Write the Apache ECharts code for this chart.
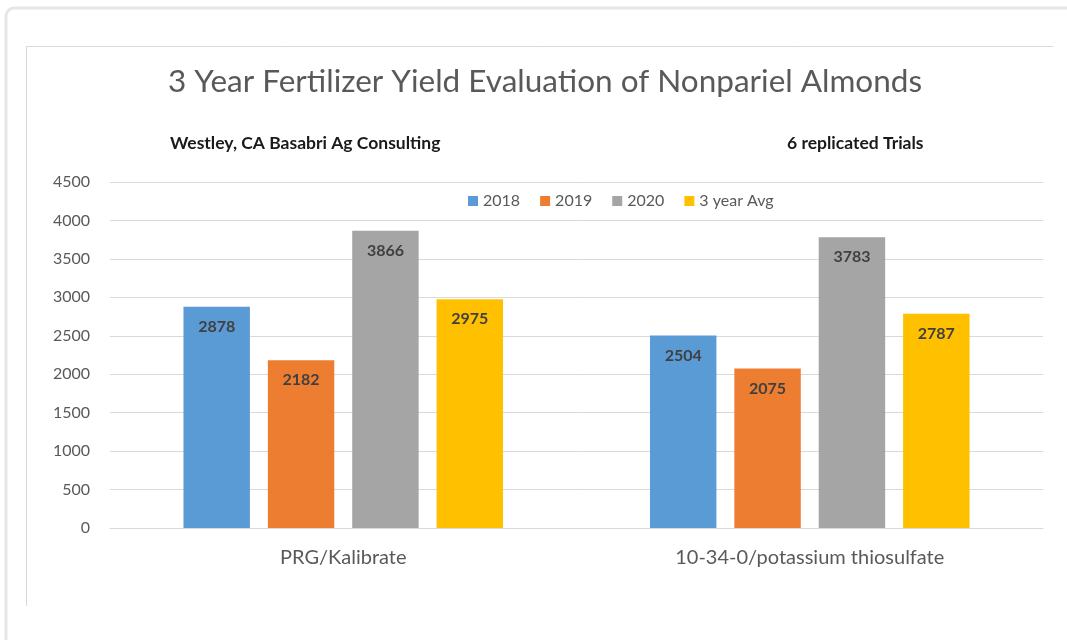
<!DOCTYPE html>
<html>
<head>
<meta charset="utf-8">
<script src="https://cdn.jsdelivr.net/npm/echarts@6/dist/echarts.min.js"></script>
<style>
  html, body { margin: 0; padding: 0; background: #fff; }
  #chart { width: 1067px; height: 640px; }
</style>
</head>
<body>
<div id="chart"></div>
<script>
// Chart data
const categories = ['PRG/Kalibrate', '10-34-0/potassium thiosulfate'];
const seriesNames = ['2018', '2019', '2020', '3 year Avg'];
const values2018 = [2878, 2504];
const values2019 = [2182, 2075];
const values2020 = [3866, 3783];
const valuesAvg = [2975, 2787];
const colors = ['#5B9BD5', '#ED7D31', '#A5A5A5', '#FFC000'];

const FONT = 'Lato, "Open Sans", sans-serif';

const chart = echarts.init(document.getElementById('chart'), null, { renderer: 'canvas' });

const allValues = [values2018, values2019, values2020, valuesAvg];

chart.setOption({
  animation: false,
  color: colors,
  textStyle: { fontFamily: FONT },
  title: [
    {
      text: '3 Year Fertilizer Yield Evaluation of Nonpariel Almonds',
      left: 540, top: 61, textAlign: 'center',
      textStyle: { fontSize: 31.5, fontWeight: 'normal', color: '#595959', fontFamily: FONT }
    },
    {
      text: 'Westley, CA Basabri Ag Consulting',
      left: 165, top: 129,
      textStyle: { fontSize: 17.5, fontWeight: 'bold', color: '#1a1a1a', fontFamily: FONT }
    },
    {
      text: '6 replicated Trials',
      left: 782, top: 129,
      textStyle: { fontSize: 17.5, fontWeight: 'bold', color: '#1a1a1a', fontFamily: FONT }
    }
  ],
  legend: {
    data: seriesNames,
    left: 463, top: 188,
    itemWidth: 10, itemHeight: 10, itemGap: 20,
    icon: 'rect',
    textStyle: { fontSize: 16, color: '#595959', fontFamily: FONT }
  },
  grid: { left: 110, right: 24, top: 182, bottom: 112, containLabel: false },
  xAxis: {
    type: 'category',
    data: categories,
    axisLine: { show: true, lineStyle: { color: '#d9d9d9', width: 1 } },
    axisTick: { show: false },
    axisLabel: { fontSize: 20, color: '#595959', margin: 20, fontFamily: FONT }
  },
  yAxis: {
    type: 'value',
    min: 0, max: 4500, interval: 500,
    axisLine: { show: false },
    axisTick: { show: false },
    axisLabel: {
      fontSize: 16, color: '#595959', margin: 20, fontFamily: FONT,
      formatter: v => String(v)
    },
    splitLine: { lineStyle: { color: '#d9d9d9', width: 1 } }
  },
  series: seriesNames.map((name, i) => ({
    name: name,
    type: 'bar',
    data: allValues[i],
    barGap: '27%',
    barCategoryGap: '31.5%',
    itemStyle: { color: colors[i] },
    label: {
      show: true, position: 'insideTop', distance: 12,
      fontSize: 16, fontWeight: 'bold', color: '#404040', fontFamily: FONT
    }
  })),
  graphic: [
    {
      type: 'rect', silent: true,
      shape: { x: 6, y: 8, width: 1080, height: 660, r: 8 },
      style: { fill: 'none', stroke: '#e6e6e6', lineWidth: 3 }
    },
    {
      type: 'line', silent: true,
      shape: { x1: 26, y1: 46.5, x2: 1053, y2: 46.5 },
      style: { stroke: '#d9d9d9', lineWidth: 1 }
    },
    {
      type: 'line', silent: true,
      shape: { x1: 26.5, y1: 46, x2: 26.5, y2: 606 },
      style: { stroke: '#d9d9d9', lineWidth: 1 }
    }
  ]
});
</script>
</body>
</html>
